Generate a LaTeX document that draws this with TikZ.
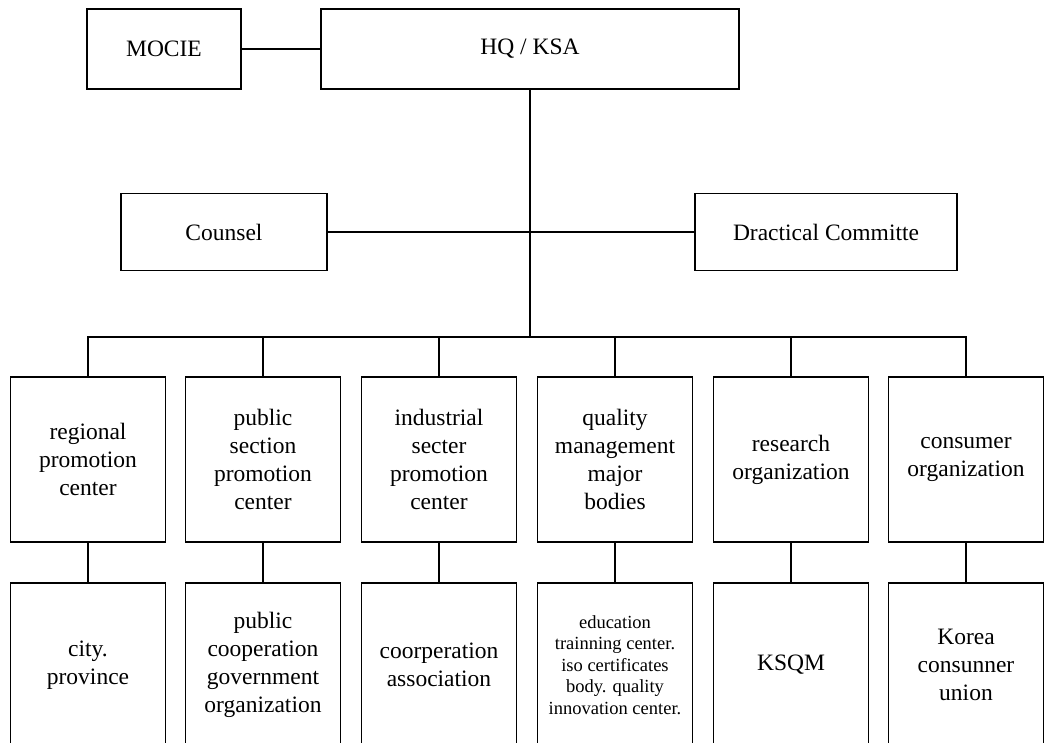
\documentclass[tikz,border=0pt]{standalone}
\usepackage{fontspec}
\setmainfont{Liberation Serif}
\tikzset{
  box/.style={draw, line width=1.5pt, align=center, inner sep=0pt,
    font=\fontsize{23.5}{28}\selectfont},
  topbox/.style={box, minimum height=80pt},
  midbox/.style={box, minimum height=77pt},
  rowbox/.style={box, minimum width=155pt, minimum height=165pt},
  leafbox/.style={box, minimum width=155pt, minimum height=164pt},
  conn/.style={line width=1.5pt}
}
\begin{document}
\begin{tikzpicture}[x=1pt,y=-1pt]
\useasboundingbox (0,0) rectangle (1044,743);
\clip (0,0) rectangle (1044,743);
\fill[white] (0,0) rectangle (1044,743);
% top
\node[topbox, minimum width=154pt] (mocie) at (164,49) {MOCIE};
\node[topbox, minimum width=418pt] (hq) at (530,49) {HQ / KSA};
% middle
\node[midbox, minimum width=206pt] (counsel) at (224,232) {Counsel};
\node[midbox, minimum width=262pt] (dract) at (826,232) {Dractical Committe};
% upper row
\node[rowbox] (r1) at (88,459.5) {regional\\promotion\\center};
\node[rowbox] (r2) at (263,459.5) {public\\section\\promotion\\center};
\node[rowbox] (r3) at (439,459.5) {industrial\\secter\\promotion\\center};
\node[rowbox] (r4) at (615,459.5) {quality\\management\\major\\bodies};
\node[rowbox] (r5) at (791,459.5) {research\\organization};
\node[rowbox] (r6) at (966,459.5) {consumer\\organization};
% lower row
\node[leafbox] (l1) at (88,665) {city.\\province};
\node[leafbox] (l2) at (263,665) {public\\cooperation\\government\\organization};
\node[leafbox] (l3) at (439,665) {coorperation\\association};
\node[leafbox, font=\fontsize{18.5}{21.5}\selectfont] (l4) at (615,665) {education\\trainning center.\\iso certificates\\body. quality\\innovation center.};
\node[leafbox] (l5) at (791,665) {KSQM};
\node[leafbox] (l6) at (966,665) {Korea\\consunner\\union};
% connectors
\coordinate (bus) at (530,337);
\draw[conn] (mocie.east) -- (hq.west);
\draw[conn] (hq.south) -- (bus);
\draw[conn] (counsel.east) -- (dract.west);
\draw[conn] (r1.north) |- (r6.north |- bus) -- (r6.north);
\foreach \i in {2,3,4,5} {\draw[conn] (r\i.north) -- (r\i.north |- bus);}
\foreach \i in {1,...,6} {\draw[conn] (r\i.south) -- (l\i.north);}
\end{tikzpicture}
\end{document}
